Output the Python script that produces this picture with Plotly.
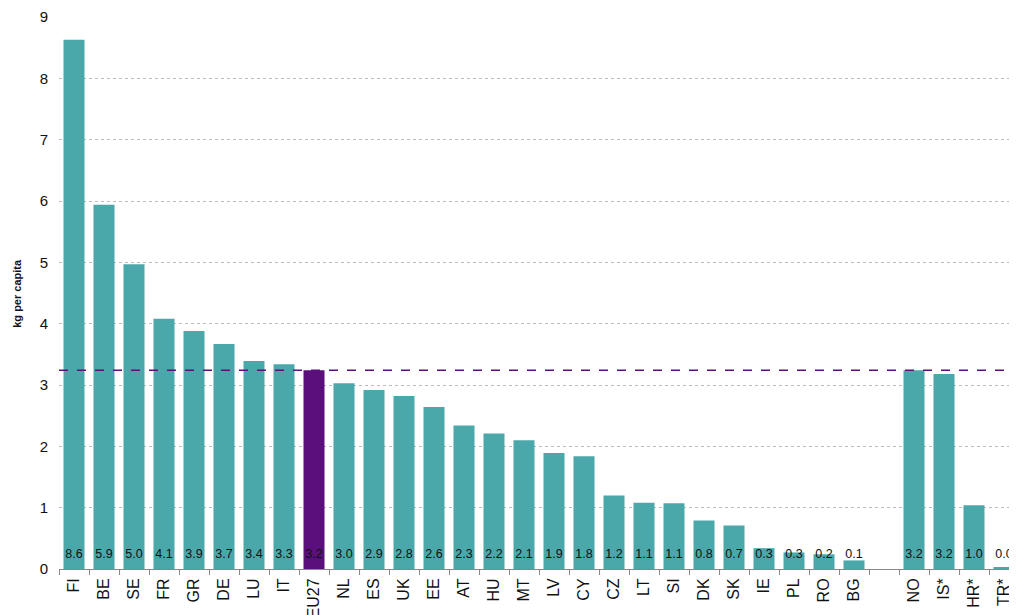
import plotly.graph_objects as go

countries = ["FI", "BE", "SE", "FR", "GR", "DE", "LU", "IT", "EU27", "NL", "ES", "UK", "EE", "AT", "HU",
             "MT", "LV", "CY", "CZ", "LT", "SI", "DK", "SK", "IE", "PL", "RO", "BG", " ", "NO", "IS*", "HR*", "TR*"]
values = [8.63, 5.94, 4.97, 4.08, 3.88, 3.67, 3.39, 3.34, 3.24, 3.03, 2.92, 2.82, 2.64, 2.34, 2.21,
          2.10, 1.89, 1.84, 1.20, 1.08, 1.07, 0.79, 0.71, 0.34, 0.27, 0.24, 0.14, None, 3.24, 3.18, 1.04, 0.03]
eu_value = 3.24

teal = "#4BA8AA"
purple = "#5A0F7C"
colors = [purple if c == "EU27" else teal for c in countries]
labels = ["" if v is None else f"{v:.1f}" for v in values]
label_level = 0.23

fig = go.Figure()
fig.add_trace(go.Bar(x=countries, y=values, marker=dict(color=colors, line=dict(width=0)),
                     hoverinfo="x+y", showlegend=False))
fig.add_trace(go.Scatter(x=countries, y=[label_level] * len(countries), mode="text", text=labels,
                         textposition="middle center",
                         textfont=dict(size=12.5, color="#111", family="Liberation Sans, Arial"),
                         showlegend=False, hoverinfo="skip"))
fig.add_shape(type="line", xref="paper", x0=0, x1=1, yref="y", y0=eu_value, y1=eu_value,
              line=dict(color=purple, width=1.5, dash="dash"))
fig.add_annotation(text="<b>kg per capita</b>", xref="paper", yref="paper", x=-0.044, y=0.5,
                   textangle=-90, showarrow=False, font=dict(size=11, color="#111"),
                   xanchor="center", yanchor="middle")

fig.update_layout(
    width=1017, height=615,
    margin=dict(l=51, r=6, t=9, b=54),
    paper_bgcolor="white", plot_bgcolor="white",
    bargap=0.3,
    font=dict(family="Liberation Sans, Arial", size=15, color="#111"),
)
fig.update_xaxes(type="category", range=[-0.5, len(countries) - 0.5], tickangle=-90,
                 showline=True, linecolor="#888", linewidth=1,
                 ticks="outside", tickson="boundaries", ticklen=5, tickcolor="#888",
                 tickfont=dict(size=16), ticklabelstandoff=2, showgrid=False, automargin=False)
fig.update_yaxes(range=[0, 9], dtick=1, showgrid=True, gridcolor="#bbbbbb", griddash="dot", gridwidth=1,
                 zeroline=False, showline=False, tickfont=dict(size=15), ticklabelstandoff=10,
                 automargin=False)

fig.write_html("out.html")
